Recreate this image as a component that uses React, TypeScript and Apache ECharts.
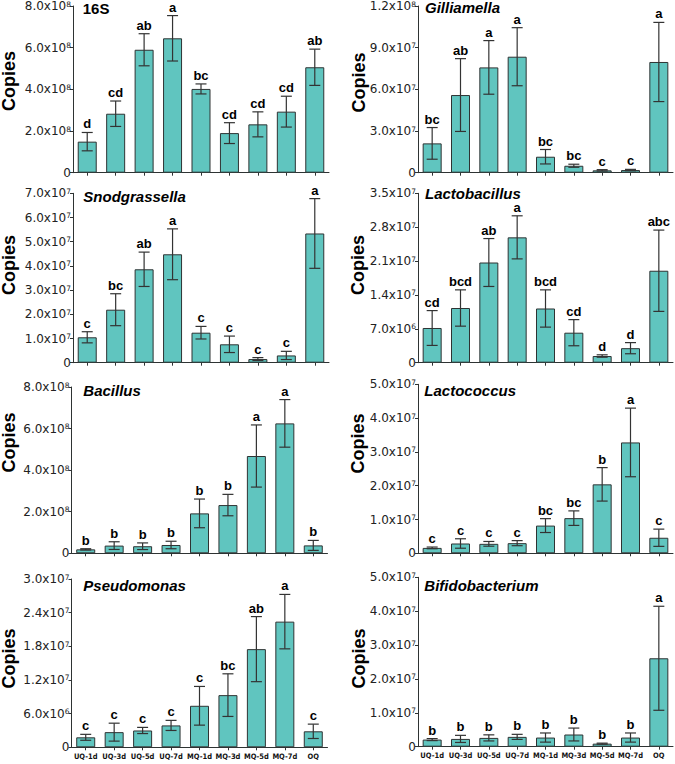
import React, { useEffect, useRef } from "react";
import * as echarts from "echarts";

const categories = ["UQ-1d", "UQ-3d", "UQ-5d", "UQ-7d", "MQ-1d", "MQ-3d", "MQ-5d", "MQ-7d", "OQ"];

const panelNames = ["16S", "Gilliamella", "Snodgrassella", "Lactobacillus", "Bacillus", "Lactococcus", "Pseudomonas", "Bifidobacterium"];

// means and error values (copies)
const mean16S = [1.49e8, 2.83e8, 5.9e8, 6.45e8, 4.02e8, 1.9e8, 2.32e8, 2.93e8, 5.06e8];
const err16S = [0.44e8, 0.61e8, 0.77e8, 1.09e8, 0.24e8, 0.5e8, 0.6e8, 0.74e8, 0.87e8];
const let16S = ["d", "cd", "ab", "a", "bc", "cd", "cd", "cd", "ab"];

const meanGill = [2.11e7, 5.59e7, 7.58e7, 8.35e7, 1.15e7, 0.5e7, 0.17e7, 0.19e7, 7.97e7];
const errGill = [1.14e7, 2.62e7, 1.93e7, 2.09e7, 0.52e7, 0.11e7, 0.05e7, 0.05e7, 2.85e7];
const letGill = ["bc", "ab", "a", "a", "bc", "bc", "c", "c", "a"];

const meanSnod = [1.05e7, 2.19e7, 3.86e7, 4.48e7, 1.24e7, 0.76e7, 0.15e7, 0.3e7, 5.34e7];
const errSnod = [0.23e7, 0.66e7, 0.71e7, 1.05e7, 0.26e7, 0.34e7, 0.06e7, 0.17e7, 1.44e7];
const letSnod = ["c", "bc", "ab", "a", "c", "c", "c", "c", "a"];

const meanLacto = [0.717e7, 1.13e7, 2.07e7, 2.59e7, 1.12e7, 0.62e7, 0.138e7, 0.3e7, 1.9e7];
const errLacto = [0.36e7, 0.375e7, 0.495e7, 0.445e7, 0.385e7, 0.27e7, 0.025e7, 0.115e7, 0.84e7];
const letLacto = ["cd", "bcd", "ab", "a", "bcd", "cd", "d", "d", "abc"];

const meanBac = [0.19e8, 0.37e8, 0.34e8, 0.4e8, 1.92e8, 2.32e8, 4.68e8, 6.25e8, 0.38e8];
const errBac = [0.03e8, 0.185e8, 0.16e8, 0.18e8, 0.69e8, 0.515e8, 1.495e8, 1.145e8, 0.24e8];
const letBac = ["b", "b", "b", "b", "b", "b", "a", "a", "b"];

const meanLcoc = [0.16e7, 0.29e7, 0.28e7, 0.3e7, 0.82e7, 1.04e7, 2.04e7, 3.28e7, 0.46e7];
const errLcoc = [0.025e7, 0.14e7, 0.07e7, 0.075e7, 0.205e7, 0.215e7, 0.495e7, 1.015e7, 0.255e7];
const letLcoc = ["c", "c", "c", "c", "bc", "bc", "b", "a", "c"];

const meanPse = [0.178e7, 0.27e7, 0.3e7, 0.39e7, 0.74e7, 0.93e7, 1.75e7, 2.24e7, 0.285e7];
const errPse = [0.053e7, 0.16e7, 0.055e7, 0.09e7, 0.345e7, 0.38e7, 0.58e7, 0.485e7, 0.128e7];
const letPse = ["c", "c", "c", "c", "c", "bc", "ab", "a", "c"];

const meanBif = [0.21e7, 0.23e7, 0.26e7, 0.29e7, 0.27e7, 0.36e7, 0.09e7, 0.27e7, 2.61e7];
const errBif = [0.03e7, 0.105e7, 0.09e7, 0.075e7, 0.135e7, 0.19e7, 0.015e7, 0.135e7, 1.535e7];
const letBif = ["b", "b", "b", "b", "b", "b", "b", "b", "a"];

const axisMax = [8e8, 1.2e8, 7e7, 3.5e7, 8e8, 5e7, 3e7, 5e7];
const axisInterval = [2e8, 3e7, 1e7, 7e6, 2e8, 1e7, 6e6, 1e7];

const allMeans = [mean16S, meanGill, meanSnod, meanLacto, meanBac, meanLcoc, meanPse, meanBif];
const allErrs = [err16S, errGill, errSnod, errLacto, errBac, errLcoc, errPse, errBif];
const allLetters = [let16S, letGill, letSnod, letLacto, letBac, letLcoc, letPse, letBif];

// layout (px)
const gridBoxes = [
  { left: 73, top: 6, width: 256, height: 166.7 },
  { left: 418, top: 6, width: 255, height: 166.7 },
  { left: 73, top: 193.3, width: 256, height: 169.4 },
  { left: 418, top: 193.3, width: 255, height: 169.4 },
  { left: 71.5, top: 387, width: 256, height: 166.3 },
  { left: 418, top: 384.3, width: 255, height: 169 },
  { left: 71.5, top: 579, width: 256, height: 168.3 },
  { left: 418, top: 577.3, width: 255, height: 169.4 },
];
const titlePos = [
  { left: 82.7, top: 0.5 },
  { left: 425, top: -0.5 },
  { left: 83.3, top: 189 },
  { left: 425, top: 185.5 },
  { left: 83.3, top: 382.5 },
  { left: 424.3, top: 383 },
  { left: 83.3, top: 578 },
  { left: 424.3, top: 578 },
];
const copiesPos = [
  [9, 81], [358.5, 82.5], [9, 265], [357.5, 265], [9, 442.5], [357.5, 443.5], [9, 658.5], [358.5, 658.5],
];

const BAR = "#60c5bf";
const DARK = "#2e3333";
const SANS = "'Liberation Sans', Arial, Helvetica, sans-serif";

function tickFormatter(v: number): string {
  if (v === 0) return "{m|0}";
  const exp = Math.floor(Math.log10(v) + 1e-9);
  const mant = v / Math.pow(10, exp);
  return "{m|" + mant.toFixed(1) + "x10}{s|" + exp + "}";
}

export default function App() {
  const ref = useRef<HTMLDivElement>(null);
  useEffect(() => {
    if (!ref.current) return;
    const chart = echarts.init(ref.current, undefined, { renderer: "svg" });
    const grid: any[] = [];
    const xAxis: any[] = [];
    const yAxis: any[] = [];
    const series: any[] = [];
    const title: any[] = [];
    const graphic: any[] = [];
    for (let p = 0; p < 8; p++) {
      const isBottom = p >= 6;
      grid.push({ ...gridBoxes[p], containLabel: false });
      xAxis.push({
        type: "category",
        gridIndex: p,
        data: categories,
        axisLine: { show: true, lineStyle: { color: DARK, width: 1 } },
        axisTick: { show: true, alignWithLabel: true, length: 3, lineStyle: { color: DARK } },
        axisLabel: {
          show: isBottom,
          interval: 0,
          margin: 5,
          fontSize: 7.5,
          fontWeight: "bold",
          color: "#111",
          fontFamily: "'Liberation Sans Narrow', 'DejaVu Sans Condensed', sans-serif",
        },
        splitLine: { show: false },
      });
      yAxis.push({
        type: "value",
        gridIndex: p,
        min: 0,
        max: axisMax[p],
        interval: axisInterval[p],
        axisLine: { show: true, lineStyle: { color: DARK, width: 1 } },
        axisTick: { show: true, length: 3, lineStyle: { color: DARK } },
        splitLine: { show: false },
        axisLabel: {
          margin: 2,
          formatter: tickFormatter,
          rich: {
            m: { fontSize: 12, fontFamily: "'DejaVu Sans', sans-serif", color: "#222" },
            s: { fontSize: 7.5, fontFamily: "'DejaVu Sans', sans-serif", color: "#222", verticalAlign: "top" },
          },
        },
      });
      const means = allMeans[p];
      const errs = allErrs[p];
      const letters = allLetters[p];
      series.push({
        type: "bar",
        xAxisIndex: p,
        yAxisIndex: p,
        data: means,
        barWidth: 19,
        itemStyle: { color: BAR, borderColor: DARK, borderWidth: 1 },
        silent: true,
      });
      series.push({
        type: "custom",
        xAxisIndex: p,
        yAxisIndex: p,
        data: means.map((m, i) => [i, m, errs[i]]),
        encode: { x: 0, y: 1 },
        z: 5,
        silent: true,
        renderItem: (params: any, api: any) => {
          const i = api.value(0);
          const m = api.value(1);
          const e = api.value(2);
          const top = api.coord([i, m + e]);
          const bot = api.coord([i, m - e]);
          const half = 5.5;
          const ls = { stroke: "#333", lineWidth: 1.2 };
          return {
            type: "group",
            children: [
              { type: "line", shape: { x1: top[0], y1: top[1], x2: bot[0], y2: bot[1] }, style: ls },
              { type: "line", shape: { x1: top[0] - half, y1: top[1], x2: top[0] + half, y2: top[1] }, style: ls },
              { type: "line", shape: { x1: bot[0] - half, y1: bot[1], x2: bot[0] + half, y2: bot[1] }, style: ls },
              {
                type: "text",
                x: top[0],
                y: top[1] - 2,
                style: {
                  text: letters[i],
                  align: "center",
                  verticalAlign: "bottom",
                  textAlign: "center",
                  textVerticalAlign: "bottom",
                  fill: "#000",
                  font: "bold 13px " + SANS,
                },
              },
            ],
          };
        },
      });
      title.push({
        text: panelNames[p],
        left: titlePos[p].left,
        top: titlePos[p].top,
        padding: 0,
        textStyle: {
          fontSize: 15,
          fontWeight: "bold",
          fontStyle: p === 0 ? "normal" : "italic",
          fontFamily: SANS,
          color: "#000",
        },
      });
      graphic.push({
        type: "text",
        x: copiesPos[p][0],
        y: copiesPos[p][1],
        rotation: Math.PI / 2,
        style: {
          text: "Copies",
          align: "center",
          verticalAlign: "middle",
          textAlign: "center",
          textVerticalAlign: "middle",
          fill: "#000",
          font: "bold 18px " + SANS,
        },
      });
    }
    chart.setOption({
      animation: false,
      backgroundColor: "#fff",
      title,
      grid,
      xAxis,
      yAxis,
      series,
      graphic,
    });
    return () => chart.dispose();
  }, []);
  return (
    <div
      ref={ref}
      style={{ position: "fixed", left: 0, top: 0, width: 675, height: 764, background: "#fff" }}
    />
  );
}
